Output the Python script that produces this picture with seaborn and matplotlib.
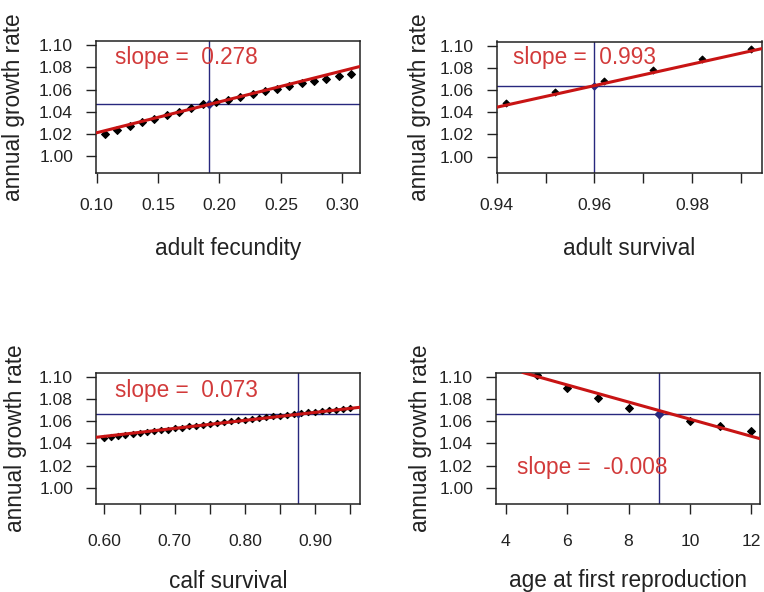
import numpy as np
import pandas as pd
import seaborn as sns
import matplotlib
matplotlib.use("Agg")
import matplotlib.pyplot as plt

# ---------------- data ----------------
fec_x = [0.107, 0.117, 0.127, 0.137, 0.147, 0.157, 0.167, 0.177, 0.187, 0.197, 0.207,
         0.217, 0.227, 0.237, 0.247, 0.257, 0.267, 0.277, 0.287, 0.297, 0.307]
fec_y = [1.0198, 1.0240, 1.0276, 1.0310, 1.0336, 1.0375, 1.0400, 1.0438, 1.0470, 1.0490, 1.0510,
         1.0535, 1.0560, 1.0586, 1.0610, 1.0634, 1.0660, 1.0680, 1.0697, 1.0720, 1.0745]

asurv_x = [0.942, 0.952, 0.962, 0.972, 0.982, 0.992]
asurv_y = [1.048, 1.058, 1.068, 1.078, 1.088, 1.097]

calf_x = [0.60, 0.61, 0.62, 0.63, 0.64, 0.65, 0.66, 0.67, 0.68, 0.69, 0.70, 0.71,
          0.72, 0.73, 0.74, 0.75, 0.76, 0.77, 0.78, 0.79, 0.80, 0.81, 0.82, 0.83,
          0.84, 0.85, 0.86, 0.87, 0.88, 0.89, 0.90, 0.91, 0.92, 0.93, 0.94, 0.95]
calf_y = [1.0445, 1.0460, 1.0462, 1.0472, 1.0480, 1.0495, 1.0498, 1.0510, 1.0520, 1.0522,
          1.0535, 1.0540, 1.0552, 1.0558, 1.0565, 1.0575, 1.0580, 1.0592, 1.0598, 1.0608,
          1.0612, 1.0622, 1.0630, 1.0635, 1.0645, 1.0650, 1.0658, 1.0665, 1.0670, 1.0678,
          1.0683, 1.0690, 1.0696, 1.0702, 1.0708, 1.0715]

afr_x = [4, 5, 6, 7, 8, 9, 10, 11, 12]
afr_y = [1.1130, 1.1015, 1.0894, 1.0810, 1.0721, 1.0660, 1.0597, 1.0552, 1.0515]

x_labels = ["adult fecundity", "adult survival", "calf survival", "age at first reproduction"]
slope_labels = ["0.278", "0.993", "0.073", "-0.008"]

# reference (baseline) values: crosshair position
ref_x = [0.1917, 0.960, 0.8754, 9.0]
ref_y = [1.0468, 1.064, 1.0661, 1.0665]

# fitted sensitivity lines: anchor point and slope
line_x0 = [0.1917, 0.960, 0.8754, 9.0]
line_y0 = [1.0468, 1.064, 1.0661, 1.0695]
line_slope = [0.278, 0.975, 0.072, -0.0077]

x_lims = [(0.0995, 0.3144), (0.940, 0.9942), (0.588, 0.964), (3.674, 12.29)]
y_lim = (0.9856, 1.1038)

x_ticks = [[0.10, 0.15, 0.20, 0.25, 0.30],
           [0.94, 0.95, 0.96, 0.97, 0.98, 0.99],
           [0.60, 0.65, 0.70, 0.75, 0.80, 0.85, 0.90, 0.95],
           [4, 6, 8, 10, 12]]
x_ticklabels = [["0.10", "0.15", "0.20", "0.25", "0.30"],
                ["0.94", "", "0.96", "", "0.98", ""],
                ["0.60", "", "0.70", "", "0.80", "", "0.90", ""],
                ["4", "6", "8", "10", "12"]]
y_ticks = [1.00, 1.02, 1.04, 1.06, 1.08, 1.10]
y_ticklabels = ["1.00", "1.02", "1.04", "1.06", "1.08", "1.10"]

datasets = [(fec_x, fec_y), (asurv_x, asurv_y), (calf_x, calf_y), (afr_x, afr_y)]
marker_sizes = [16, 12, 10, 16]

# text placement (axes fraction)
text_pos = [(0.072, 0.872), (0.063, 0.878), (0.072, 0.865), (0.078, 0.279)]
xlabel_off = [76, 76, 78, 77]    # px below axes
ylabel_off = [83, 77, 81, 75]    # px left of axes
ticklab_pad = [10.5, 10.5, 14, 14]

# ---------------- style ----------------
sns.set_theme(style="white")
plt.rcParams['font.family'] = ['Liberation Sans', 'DejaVu Sans']

W, H = 764, 592
fig = plt.figure(figsize=(W / 100, H / 100), dpi=100)

# axes boxes in pixels: left, top, right, bottom
boxes = [(96, 41, 360, 172.5), (496.7, 41.5, 761.7, 172.5),
         (96, 372.5, 360, 503.7), (496, 372.5, 760, 503.7)]

RED = "#c81414"
TXT_RED = "#d23a3a"
NAVY = "#28287e"

for i, (l, t, r, b) in enumerate(boxes):
    ax = fig.add_axes([l / W, 1 - b / H, (r - l) / W, (b - t) / H])
    xs, ys = datasets[i]
    df = pd.DataFrame({"x": xs, "y": ys})
    ax.set_xlim(*x_lims[i])
    ax.set_ylim(*y_lim)

    ax.axvline(ref_x[i], color=NAVY, lw=1.0, zorder=1)
    ax.axhline(ref_y[i], color=NAVY, lw=1.0, zorder=1)

    sns.scatterplot(data=df, x="x", y="y", ax=ax, marker="D", color="black",
                    s=marker_sizes[i], linewidth=0.8, edgecolor="black", zorder=2)
    ax.scatter([ref_x[i]], [ref_y[i]], marker="D", color=NAVY, s=marker_sizes[i],
               zorder=3)
    ax.axline((line_x0[i], line_y0[i]), slope=line_slope[i], color=RED, lw=2.2,
              zorder=4)

    ax.text(text_pos[i][0], text_pos[i][1], "slope =  " + slope_labels[i],
            transform=ax.transAxes, color=TXT_RED, fontsize=16.3, va="center",
            ha="left", zorder=5)

    ax.set_xticks(x_ticks[i])
    ax.set_xticklabels(x_ticklabels[i])
    ax.set_yticks(y_ticks)
    ax.set_yticklabels(y_ticklabels)
    ax.tick_params(axis="both", direction="out", length=7.5, width=1.0,
                   color="#222222", labelsize=12.6, labelcolor="#222222",
                   bottom=True, left=True)
    ax.tick_params(axis="x", pad=ticklab_pad[i])
    ax.tick_params(axis="y", pad=9)

    for sp in ax.spines.values():
        sp.set_visible(True)
        sp.set_color("#222222")
        sp.set_linewidth(1.1)

    ax.set_xlabel(x_labels[i], fontsize=16.3, color="#222222")
    ax.set_ylabel("annual growth rate", fontsize=16.3, color="#222222")
    hpx = b - t
    wpx = r - l
    ax.xaxis.set_label_coords(0.5, -xlabel_off[i] / hpx)
    ax.xaxis.label.set_va("center")
    ax.yaxis.set_label_coords(-ylabel_off[i] / wpx, 0.5)
    ax.yaxis.label.set_va("center")
    ax.grid(False)

fig.savefig("out.png", dpi=100)
